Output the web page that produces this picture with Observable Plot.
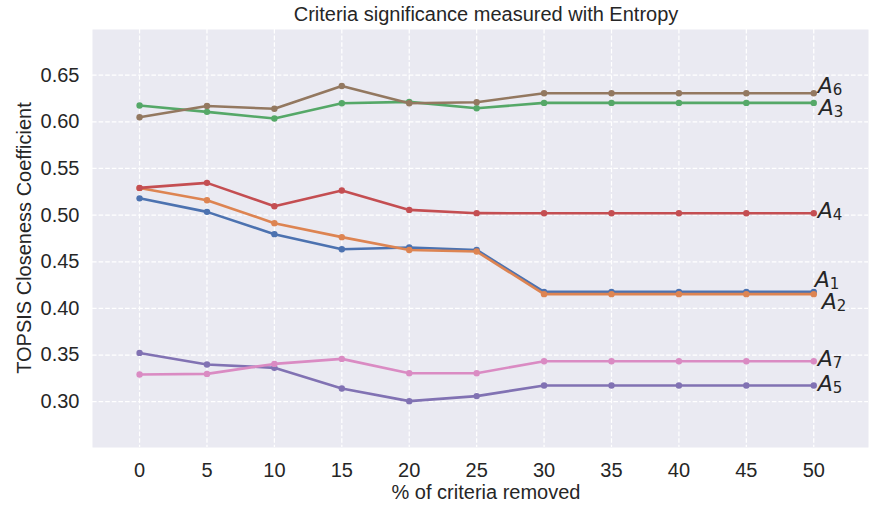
<!DOCTYPE html>
<html>
<head>
<meta charset="utf-8">
<script src="https://cdn.jsdelivr.net/npm/d3@7"></script>
<script src="https://cdn.jsdelivr.net/npm/@observablehq/plot@0.6"></script>
<style>
  body { margin: 0; background: #ffffff; }
  #chart svg { display: block; }
</style>
</head>
<body>
<div id="chart"></div>
<script>
// ---- data ----
const pctRemoved = [0, 5, 10, 15, 20, 25, 30, 35, 40, 45, 50];
const seriesNames = ["A1", "A2", "A3", "A4", "A5", "A6", "A7"];
const A1 = [0.518, 0.5035, 0.4796, 0.4635, 0.4653, 0.4627, 0.4177, 0.4177, 0.4177, 0.4177, 0.4177];
const A2 = [0.529, 0.516, 0.4914, 0.4764, 0.4627, 0.461, 0.4153, 0.4153, 0.4153, 0.4153, 0.4153];
const A3 = [0.6175, 0.6107, 0.6036, 0.620, 0.6214, 0.6146, 0.6203, 0.6203, 0.6203, 0.6203, 0.6203];
const A4 = [0.5292, 0.5346, 0.5096, 0.5264, 0.5056, 0.5021, 0.502, 0.502, 0.502, 0.502, 0.502];
const A5 = [0.3523, 0.3399, 0.3363, 0.3142, 0.3006, 0.306, 0.3174, 0.3174, 0.3174, 0.3174, 0.3174];
const A6 = [0.605, 0.617, 0.614, 0.6385, 0.620, 0.621, 0.6307, 0.6307, 0.6307, 0.6307, 0.6307];
const A7 = [0.3292, 0.3298, 0.3405, 0.3459, 0.3305, 0.3305, 0.3434, 0.3434, 0.3434, 0.3434, 0.3434];
const xTicks = [0, 5, 10, 15, 20, 25, 30, 35, 40, 45, 50];
const yTicks = [0.30, 0.35, 0.40, 0.45, 0.50, 0.55, 0.60, 0.65];
const titleText = "Criteria significance measured with Entropy";
const xLabelText = "% of criteria removed";
const yLabelText = "TOPSIS Closeness Coefficient";

// ---- styles ----
const palette = ["#4C72B0", "#DD8452", "#55A868", "#C44E52", "#8172B3", "#937860", "#DA8BC3"];
const labelNudge = { A1: [1, -5], A2: [8, 15], A3: [5, 12], A4: [4, 5], A5: [4, 6], A6: [4, 0], A7: [4, 5] };
const textColor = "#262626";
const sansFont = "'Liberation Sans', Arial, sans-serif";

const seriesValues = [A1, A2, A3, A4, A5, A6, A7];
const seriesRows = seriesNames.map((name, i) =>
  pctRemoved.map((x, j) => ({ series: name, x, y: seriesValues[i][j] })));

const gridStyle = { stroke: "#ffffff", strokeOpacity: 1, strokeWidth: 1.25, strokeDasharray: "4.6,2" };

const seriesMarks = seriesRows.flatMap(rows => [
  Plot.line(rows, { x: "x", y: "y", stroke: "series", strokeWidth: 2.6, strokeLinejoin: "round" }),
  Plot.dot(rows, { x: "x", y: "y", fill: "series", r: 3.2 })
]);

const labelMarks = seriesRows.flatMap(rows => {
  const last = rows[rows.length - 1];
  const [dx, dy] = labelNudge[last.series];
  return [
    Plot.text([last], { x: "x", y: "y", text: d => d.series[0], dx, dy, textAnchor: "start", lineAnchor: "bottom",
      fontFamily: "'DejaVu Sans'", fontStyle: "italic", fontSize: 22, fill: textColor }),
    Plot.text([last], { x: "x", y: "y", text: d => d.series.slice(1), dx: dx + 15, dy: dy + 2, textAnchor: "start", lineAnchor: "bottom",
      fontFamily: "'DejaVu Sans'", fontSize: 15, fill: textColor })
  ];
});

const chart = Plot.plot({
  width: 870,
  height: 506,
  marginTop: 29,
  marginBottom: 59,
  marginLeft: 92,
  marginRight: 2,
  style: { fontFamily: sansFont, fontSize: "20px", color: textColor, background: "#ffffff" },
  x: { domain: [-3.49, 54.06] },
  y: { domain: [0.2509, 0.699] },
  color: { domain: seriesNames, range: palette },
  marks: [
    Plot.frame({ fill: "#EAEAF2", stroke: null }),
    Plot.gridX({ ticks: xTicks, ...gridStyle }),
    Plot.gridY({ ticks: yTicks, ...gridStyle }),
    ...seriesMarks,
    ...labelMarks,
    Plot.axisX({ ticks: xTicks, tickSize: 0, tickPadding: 15, label: null, fontSize: 20, fill: textColor }),
    Plot.axisY({ ticks: yTicks, tickFormat: d3.format(".2f"), tickSize: 0, tickPadding: 13, label: null, fontSize: 20, fill: textColor })
  ]
});

const svg = d3.select(chart);
svg.append("text").attr("x", 486).attr("y", 21).attr("text-anchor", "middle")
  .attr("font-family", sansFont).attr("font-size", 20).attr("fill", textColor).text(titleText);
svg.append("text").attr("x", 486).attr("y", 499).attr("text-anchor", "middle")
  .attr("font-family", sansFont).attr("font-size", 20).attr("fill", textColor).text(xLabelText);
svg.append("text").attr("transform", "translate(31,238) rotate(-90)").attr("text-anchor", "middle")
  .attr("font-family", sansFont).attr("font-size", 20).attr("fill", textColor).text(yLabelText);

document.getElementById("chart").appendChild(chart);
</script>
</body>
</html>
